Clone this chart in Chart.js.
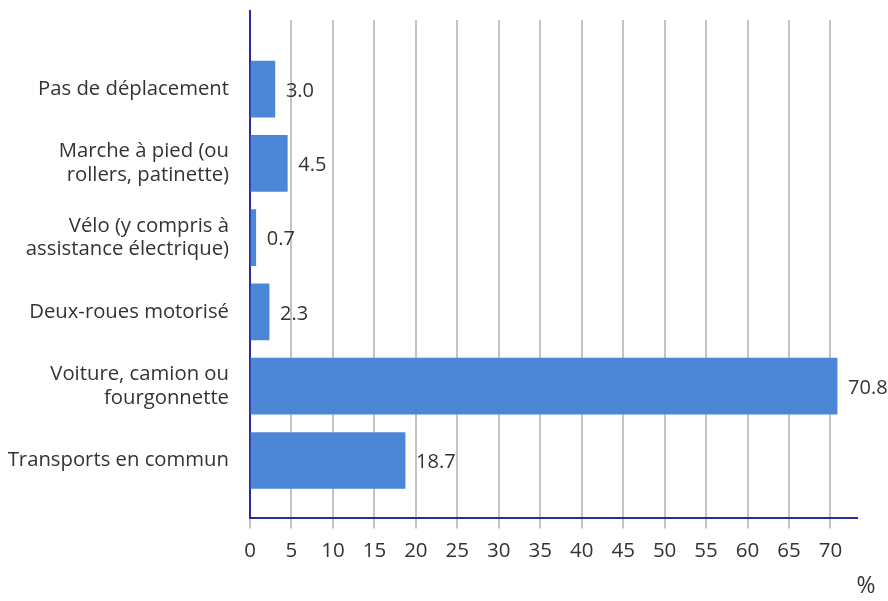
<!DOCTYPE html>
<html>
<head>
<meta charset="utf-8">
<script src="https://cdn.jsdelivr.net/npm/chart.js@4/dist/chart.umd.min.js"></script>
<style>
  html, body { margin: 0; padding: 0; background: #fff; }
  #wrap { width: 888px; height: 601px; }
</style>
</head>
<body>
<div id="wrap"><canvas id="chart"></canvas></div>
<script>
const categories = [
  ["Pas de déplacement"],
  ["Marche à pied (ou", "rollers, patinette)"],
  ["Vélo (y compris à", "assistance électrique)"],
  ["Deux-roues motorisé"],
  ["Voiture, camion ou", "fourgonnette"],
  ["Transports en commun"]
];
const values = [3.0, 4.5, 0.7, 2.3, 70.8, 18.7];
const xTicks = [0, 5, 10, 15, 20, 25, 30, 35, 40, 45, 50, 55, 60, 65, 70];
const unitLabel = "%";

const axisColor = "#2b2b9c";
const textColor = "#333333";
const fontFamily = "'Open Sans', 'Noto Sans', sans-serif";

const points = values.map((v, i) => ({ x: v, y: i }));

// value labels at the end of each bar, axis extension, unit label
const extras = {
  id: "extras",
  afterDatasetsDraw(chart) {
    const ctx = chart.ctx;
    const meta = chart.getDatasetMeta(0);
    ctx.save();
    ctx.font = "20px " + fontFamily;
    ctx.fillStyle = textColor;
    ctx.textAlign = "left";
    ctx.textBaseline = "middle";
    meta.data.forEach((bar, i) => {
      ctx.fillText(values[i].toFixed(1), bar.x + 11, bar.y + 2);
    });
    ctx.restore();
  },
  afterDraw(chart) {
    const ctx = chart.ctx;
    const area = chart.chartArea;
    const xs = chart.scales.x;
    ctx.save();
    ctx.strokeStyle = axisColor;
    ctx.lineWidth = 2;
    ctx.beginPath();
    ctx.moveTo(area.left, area.top - 10);
    ctx.lineTo(area.left, area.top);
    ctx.stroke();
    ctx.font = "23px " + fontFamily;
    ctx.fillStyle = textColor;
    ctx.textAlign = "center";
    ctx.textBaseline = "middle";
    ctx.fillText(unitLabel, xs.right + 9, chart.height - 15);
    ctx.restore();
  }
};

new Chart(document.getElementById("chart"), {
  type: "bar",
  data: {
    datasets: [{
      data: points,
      backgroundColor: "#4c87d7",
      borderWidth: 0,
      barThickness: 56
    }]
  },
  options: {
    indexAxis: "y",
    responsive: true,
    maintainAspectRatio: false,
    animation: false,
    layout: { padding: { top: 20, right: 31, bottom: 28, left: 8 } },
    plugins: {
      legend: { display: false },
      tooltip: { enabled: false }
    },
    scales: {
      x: {
        type: "linear",
        bounds: "data",
        min: 0,
        max: 73.2,
        grid: {
          color: "#c4c4c4",
          lineWidth: 2,
          tickLength: 10,
          drawTicks: true
        },
        border: { color: axisColor, width: 2 },
        afterBuildTicks(s) { s.ticks = xTicks.map(v => ({ value: v })); },
        ticks: {
          padding: 10,
          color: textColor,
          font: { family: fontFamily, size: 20.5 },
          maxRotation: 0,
          autoSkip: false
        }
      },
      y: {
        type: "linear",
        bounds: "data",
        offset: false,
        reverse: true,
        min: -0.93,
        max: 5.78,
        grid: { display: false, offset: false },
        border: { color: axisColor, width: 2 },
        afterBuildTicks(s) { s.ticks = categories.map((_, i) => ({ value: i })); },
        afterFit(s) {
          s.width = 242;
          s.paddingTop = 0;
          s.paddingBottom = 0;
        },
        ticks: {
          padding: 13,
          color: textColor,
          autoSkip: false,
          font: { family: fontFamily, size: 20.3, lineHeight: 1.15 },
          callback: (v) => categories[v]
        }
      }
    }
  },
  plugins: [extras]
});
</script>
</body>
</html>
